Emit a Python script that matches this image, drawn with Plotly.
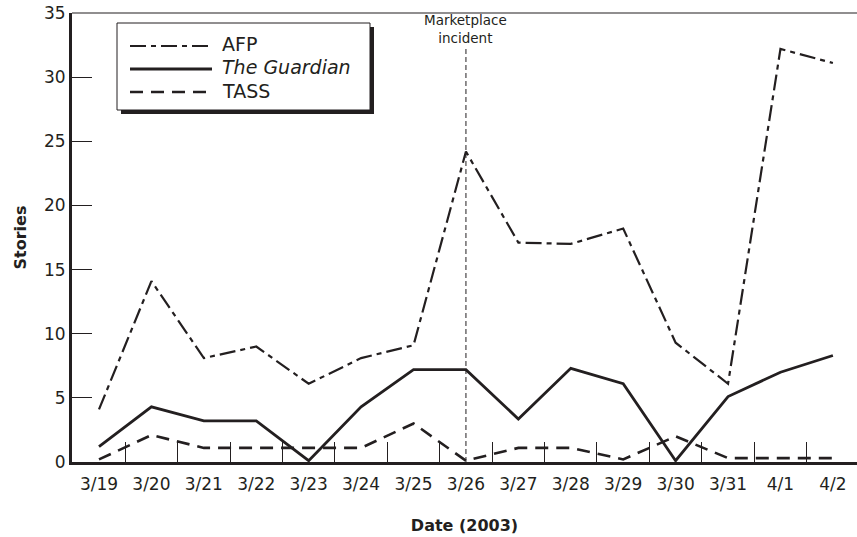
import plotly.graph_objects as go

dates = ["3/19", "3/20", "3/21", "3/22", "3/23", "3/24", "3/25", "3/26",
         "3/27", "3/28", "3/29", "3/30", "3/31", "4/1", "4/2"]
afp = [4.1, 14.1, 8.1, 9.0, 6.1, 8.1, 9.1, 24.2, 17.1, 17.0, 18.2, 9.3, 6.1, 32.2, 31.1]
guardian = [1.2, 4.3, 3.2, 3.2, 0.1, 4.3, 7.2, 7.2, 3.35, 7.3, 6.1, 0.1, 5.1, 7.0, 8.3]
tass = [0.2, 2.1, 1.1, 1.1, 1.1, 1.1, 3.0, 0.1, 1.1, 1.1, 0.2, 2.0, 0.3, 0.3, 0.3]
y_ticks = [0, 5, 10, 15, 20, 25, 30, 35]
event_date = "3/26"
event_label = "Marketplace<br>incident"

INK = "#231f20"
FONT = "DejaVu Sans"
AFP_DASH = "16px,5px,5px,5px"
TASS_DASH = "13px,8px"

fig = go.Figure()
fig.add_trace(go.Scatter(x=dates, y=afp, mode="lines", name="AFP",
                         line=dict(color=INK, width=2.2, dash=AFP_DASH)))
fig.add_trace(go.Scatter(x=dates, y=guardian, mode="lines", name="The Guardian",
                         line=dict(color=INK, width=2.8)))
fig.add_trace(go.Scatter(x=dates, y=tass, mode="lines", name="TASS",
                         line=dict(color=INK, width=2.6, dash=TASS_DASH)))

# Plot area geometry in page px (body margin removed below)
L, R, T, B = 72, 857, 13, 462
W, H = R - L, B - T
FIG_W, FIG_H = 857, 537
def px(x):
    return (x - L) / W
def py(y):
    return (B - y) / H

shapes = []
shapes.append(dict(type="line", xref="paper", yref="paper", x0=0, x1=1, y0=1, y1=1,
                   line=dict(color=INK, width=1.2)))
shapes.append(dict(type="line", xref="x", yref="y", x0=event_date, x1=event_date,
                   y0=0, y1=32.4, line=dict(color=INK, width=1, dash="5px,3px")))
shapes.append(dict(type="rect", xref="paper", yref="paper",
                   x0=px(121), x1=px(374), y0=py(114), y1=py(27),
                   fillcolor=INK, line=dict(width=0)))
shapes.append(dict(type="rect", xref="paper", yref="paper",
                   x0=px(117), x1=px(370), y0=py(110), y1=py(23),
                   fillcolor="white", line=dict(color=INK, width=1)))
leg = [("AFP", AFP_DASH, 2.2, 46), ("<i>The Guardian</i>", "solid", 2.8, 69),
       ("TASS", TASS_DASH, 2.6, 92)]
annotations = []
for text, dash, w, yy in leg:
    shapes.append(dict(type="line", xref="paper", yref="paper",
                       x0=px(130), x1=px(212), y0=py(yy), y1=py(yy),
                       line=dict(color=INK, width=w, dash=dash)))
    annotations.append(dict(xref="paper", yref="paper", x=px(220), y=py(yy - 1.5),
                            text=text, showarrow=False, xanchor="left", yanchor="middle",
                            font=dict(family=FONT, size=19, color=INK)))

annotations.append(dict(xref="x", yref="paper", x=event_date, y=py(29), text=event_label,
                        showarrow=False, xanchor="center", yanchor="middle",
                        font=dict(family=FONT, size=13.5, color=INK)))

fig.update_layout(
    width=FIG_W, height=FIG_H,
    margin=dict(l=L, r=FIG_W - R, t=T, b=FIG_H - B),
    paper_bgcolor="white", plot_bgcolor="white",
    showlegend=False,
    font=dict(family=FONT, color=INK),
    shapes=shapes, annotations=annotations,
    xaxis=dict(type="category", categoryorder="array", categoryarray=dates,
               range=[-0.515, 14.46], showgrid=False, zeroline=False, automargin=False,
               showline=True, linecolor=INK, linewidth=3,
               ticks="inside", tickson="boundaries", ticklen=20, tickwidth=1.2,
               tickcolor=INK, tickfont=dict(family=FONT, size=17, color=INK),
               ticklabelstandoff=5, ticklabeloverflow="allow",
               title=dict(text="<b>Date (2003)</b>", standoff=27,
                          font=dict(family=FONT, size=16, color=INK))),
    yaxis=dict(range=[0, 35], tickvals=y_ticks, showgrid=False, zeroline=False,
               automargin=False, ticklabeloverflow="allow",
               showline=True, linecolor=INK, linewidth=3,
               ticks="inside", ticklen=20, tickwidth=1.2, tickcolor=INK,
               tickfont=dict(family=FONT, size=17, color=INK),
               title=dict(text="<b>Stories</b>", standoff=14,
                          font=dict(family=FONT, size=16, color=INK))),
)

fig.write_html("out.html", config={"displayModeBar": False},
               post_script="document.body.style.margin='0px';document.body.style.overflow='hidden';")
